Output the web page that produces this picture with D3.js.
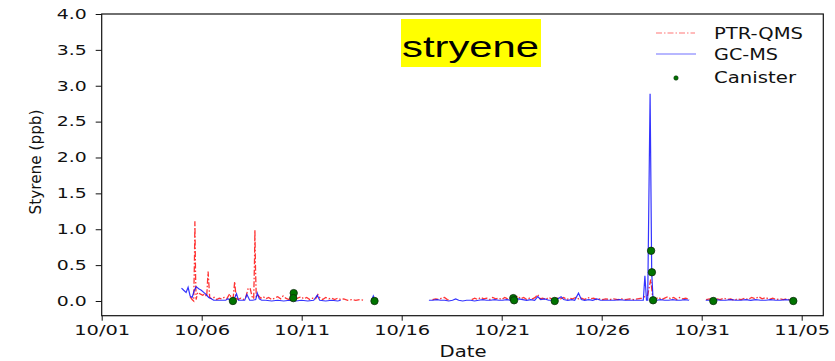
<!DOCTYPE html>
<html>
<head>
<meta charset="utf-8">
<script src="https://cdn.jsdelivr.net/npm/d3@7"></script>
<style>
  body { margin: 0; background: #fff; }
  svg { display: block; }
</style>
</head>
<body>
<div id="chart"></div>
<script>
// temps en jours depuis le 10/01 00:00, valeurs en ppb

const xTickDays = [0, 5, 10, 15, 20, 25, 30, 35];
const xTickLabels = ["10/01", "10/06", "10/11", "10/16", "10/21", "10/26", "10/31", "11/05"];
const yTickValues = [0, 0.5, 1, 1.5, 2, 2.5, 3, 3.5, 4];
const yTickLabels = ["0.0", "0.5", "1.0", "1.5", "2.0", "2.5", "3.0", "3.5", "4.0"];
const legendLabels = ["PTR-QMS", "GC-MS", "Canister"];
const titleText = "stryene";

// PTR-QMS (rouge, tiret-point)
const ptrSeg1 = [
  [4.42, 0.06], [4.52, 0.02], [4.60, 0.00], [4.64, 0.60], [4.66, 1.11], [4.69, 0.40], [4.72, 0.02], [4.80, 0.12], [4.92, 0.10],
  [5.05, 0.08], [5.15, 0.10], [5.25, 0.06], [5.32, 0.41], [5.40, 0.05], [5.50, 0.03], [5.62, 0.05],
  [5.75, 0.02], [5.88, 0.04], [6.00, 0.03], [6.12, 0.05], [6.25, 0.03], [6.40, 0.10], [6.50, 0.03],
  [6.58, 0.06], [6.65, 0.27], [6.72, 0.04], [6.82, 0.02], [6.95, 0.04], [7.08, 0.02], [7.20, 0.05],
  [7.32, 0.17], [7.42, 0.18], [7.52, 0.06], [7.60, 0.03], [7.64, 0.55], [7.66, 0.99], [7.69, 0.45], [7.73, 0.05], [7.82, 0.08],
  [7.95, 0.04], [8.08, 0.06], [8.20, 0.03], [8.35, 0.05], [8.50, 0.02], [8.65, 0.04], [8.80, 0.06],
  [8.95, 0.03], [9.07, 0.07], [9.20, 0.04], [9.35, 0.02], [9.50, 0.05], [9.65, 0.03], [9.80, 0.04],
  [9.98, 0.06], [10.10, 0.03], [10.25, 0.05], [10.40, 0.02], [10.55, 0.04], [10.70, 0.03], [10.81, 0.09],
  [10.92, 0.04], [11.05, 0.02], [11.20, 0.05], [11.35, 0.03], [11.50, 0.04], [11.65, 0.02], [11.80, 0.04],
  [11.95, 0.02], [12.10, 0.03], [12.30, 0.01], [12.50, 0.02], [12.70, 0.01], [12.90, 0.02], [13.15, 0.01]
];
const ptrSeg2 = [
  [16.54, 0.02], [16.70, 0.03], [16.85, 0.02], [17.00, 0.04], [17.14, 0.05], [17.28, 0.02], [17.40, 0.01]
];
const ptrSeg3 = [
  [18.50, 0.02], [18.65, 0.04], [18.80, 0.02], [18.95, 0.05], [19.10, 0.03], [19.25, 0.04], [19.40, 0.02],
  [19.55, 0.05], [19.70, 0.03], [19.85, 0.04], [20.00, 0.02], [20.15, 0.05], [20.30, 0.03], [20.45, 0.04],
  [20.60, 0.02], [20.80, 0.07], [20.95, 0.03], [21.10, 0.05], [21.25, 0.02], [21.40, 0.04], [21.55, 0.03],
  [21.68, 0.05], [21.80, 0.09], [21.92, 0.03], [22.05, 0.04], [22.20, 0.02], [22.35, 0.05], [22.50, 0.03],
  [22.65, 0.02], [22.80, 0.04], [22.95, 0.03], [23.10, 0.05], [23.25, 0.02], [23.40, 0.04], [23.55, 0.03],
  [23.70, 0.05], [23.85, 0.03], [24.00, 0.04], [24.15, 0.02], [24.30, 0.05], [24.45, 0.03], [24.60, 0.04],
  [24.75, 0.02], [24.90, 0.03], [25.05, 0.02], [25.20, 0.03], [25.40, 0.02], [25.60, 0.03], [25.80, 0.02],
  [26.00, 0.03], [26.20, 0.02], [26.40, 0.03], [26.60, 0.02], [26.80, 0.03], [27.00, 0.04], [27.15, 0.06],
  [27.30, 0.08], [27.45, 0.30], [27.55, 0.05], [27.70, 0.03], [27.85, 0.05], [28.00, 0.02], [28.15, 0.04],
  [28.30, 0.06], [28.45, 0.03], [28.60, 0.05], [28.75, 0.02], [28.90, 0.05], [29.05, 0.03], [29.20, 0.04],
  [29.40, 0.02]
];
const ptrSeg4 = [
  [30.22, 0.02], [30.40, 0.03], [30.58, 0.01], [30.75, 0.03], [30.92, 0.02], [31.10, 0.04], [31.28, 0.02],
  [31.45, 0.03], [31.62, 0.01], [31.80, 0.03], [31.98, 0.02], [32.15, 0.04], [32.32, 0.02], [32.50, 0.05],
  [32.68, 0.03], [32.85, 0.06], [33.02, 0.03], [33.20, 0.05], [33.38, 0.02], [33.55, 0.04], [33.72, 0.02],
  [33.90, 0.03], [34.08, 0.02], [34.25, 0.03], [34.45, 0.01]
];

// GC-MS (bleu)
const gcSeg1 = [
  [3.99, 0.18], [4.10, 0.15], [4.22, 0.12], [4.32, 0.19], [4.42, 0.07], [4.52, 0.05], [4.62, 0.14],
  [4.72, 0.20], [4.85, 0.17], [4.98, 0.15], [5.10, 0.12], [5.22, 0.09], [5.35, 0.05], [5.48, 0.03],
  [5.60, 0.01], [5.80, 0.01], [6.00, 0.01], [6.20, 0.01], [6.31, 0.03], [6.42, 0.01], [6.60, 0.01],
  [6.74, 0.10], [6.84, 0.01], [7.00, 0.01], [7.15, 0.01], [7.26, 0.09], [7.40, 0.01], [7.55, 0.01],
  [7.70, 0.02], [7.78, 0.11], [7.88, 0.03], [8.00, 0.01], [8.20, 0.01], [8.50, 0.00], [8.80, 0.01],
  [9.10, 0.00], [9.40, 0.01], [9.70, 0.00], [10.00, 0.01], [10.30, 0.00], [10.60, 0.01], [10.78, 0.08],
  [10.90, 0.01], [11.20, 0.00], [11.50, 0.01], [11.80, 0.00], [11.95, 0.01]
];
const gcSeg2 = [
  [13.50, 0.01], [13.58, 0.07], [13.66, 0.01]
];
const gcSeg3 = [
  [16.36, 0.01], [16.55, 0.01], [16.75, 0.02], [16.95, 0.01], [17.15, 0.01], [17.35, 0.00], [17.54, 0.01],
  [17.70, 0.03], [17.85, 0.01], [18.05, 0.00], [18.25, 0.01], [18.45, 0.01], [18.64, 0.00], [18.85, 0.01],
  [19.05, 0.02], [19.25, 0.01], [19.45, 0.01], [19.65, 0.02], [19.85, 0.01], [20.05, 0.01], [20.25, 0.02],
  [20.45, 0.01], [20.65, 0.02], [20.85, 0.03], [21.05, 0.02], [21.25, 0.01], [21.45, 0.02], [21.65, 0.01],
  [21.80, 0.06], [21.95, 0.02], [22.15, 0.03], [22.35, 0.01], [22.55, 0.01], [22.75, 0.02], [22.97, 0.06],
  [23.10, 0.02], [23.30, 0.01], [23.50, 0.02], [23.65, 0.01], [23.84, 0.11], [23.98, 0.02], [24.15, 0.01],
  [24.35, 0.02], [24.55, 0.01], [24.75, 0.03], [24.95, 0.01], [25.15, 0.01], [25.40, 0.01], [25.65, 0.01],
  [25.90, 0.02], [26.15, 0.01], [26.40, 0.01], [26.65, 0.01], [26.90, 0.01], [27.08, 0.01], [27.16, 0.35],
  [27.24, 0.01], [27.30, 0.01], [27.42, 2.89], [27.50, 0.40], [27.57, 0.01], [27.75, 0.01], [27.95, 0.02],
  [28.15, 0.01], [28.35, 0.01], [28.55, 0.02], [28.75, 0.01], [28.95, 0.01], [29.15, 0.02], [29.37, 0.01]
];
const gcSeg4 = [
  [30.20, 0.01], [30.45, 0.01], [30.70, 0.02], [30.95, 0.01], [31.20, 0.01], [31.45, 0.02], [31.70, 0.01],
  [31.95, 0.01], [32.20, 0.02], [32.45, 0.01], [32.70, 0.02], [32.95, 0.01], [33.20, 0.01], [33.45, 0.02],
  [33.70, 0.01], [33.95, 0.01], [34.20, 0.02], [34.50, 0.01]
];

// Canister (points verts)
const canisterDays = [6.56, 9.60, 9.58, 13.64, 20.58, 20.62, 22.65, 27.47, 27.51, 27.57, 30.58, 34.58];
const canisterPpb  = [0.00, 0.11, 0.04, 0.00, 0.04, 0.01, 0.00, 0.70, 0.40, 0.01, 0.00, 0.00];

const ptrSegments = [ptrSeg1, ptrSeg2, ptrSeg3, ptrSeg4];
const gcSegments = [gcSeg1, gcSeg2, gcSeg3, gcSeg4];

// Dimensions
const W = 835, H = 361;
const plotLeft = 101.7, plotRight = 823.3, plotTop = 14, plotBottom = 315.7;

const svg = d3.select("#chart").append("svg")
    .attr("width", W)
    .attr("height", H);

const x = d3.scaleLinear().domain([0, 36.08]).range([plotLeft, plotRight]);
const y = d3.scaleLinear().domain([-0.205, 4.0]).range([plotBottom, plotTop]);

const line = d3.line().x(d => x(d[0])).y(d => y(d[1]));

// Courbes
svg.append("g").selectAll("path")
    .data(ptrSegments)
    .enter().append("path")
    .attr("d", line)
    .attr("fill", "none")
    .attr("stroke", "#ff1010")
    .attr("stroke-opacity", 0.85)
    .attr("stroke-width", 1.3)
    .attr("stroke-dasharray", "6,2,1.5,2");

svg.append("g").selectAll("path")
    .data(gcSegments)
    .enter().append("path")
    .attr("d", line)
    .attr("fill", "none")
    .attr("stroke", "#1010ff")
    .attr("stroke-opacity", 0.85)
    .attr("stroke-width", 1.2);

svg.append("g").selectAll("circle")
    .data(canisterDays)
    .enter().append("circle")
    .attr("cx", d => x(d))
    .attr("cy", (d, i) => y(canisterPpb[i]))
    .attr("r", 3.7)
    .attr("fill", "#007400")
    .attr("stroke", "#0b2b0b")
    .attr("stroke-width", 0.8);

// Axes
const xAxis = d3.axisBottom(x)
    .tickValues(xTickDays)
    .tickFormat((d, i) => xTickLabels[i])
    .tickSize(5)
    .tickSizeOuter(0)
    .tickPadding(4);

const gx = svg.append("g")
    .attr("transform", `translate(0,${plotBottom})`)
    .call(xAxis);
gx.select(".domain").remove();
gx.selectAll("line").attr("stroke", "#111").attr("stroke-width", 1);
gx.selectAll("text")
    .attr("fill", "#111")
    .style("font-family", "DejaVu Sans")
    .style("font-size", "14px")
    .attr("textLength", 56)
    .attr("lengthAdjust", "spacingAndGlyphs");

const yAxis = d3.axisLeft(y)
    .tickValues(yTickValues)
    .tickFormat((d, i) => yTickLabels[i])
    .tickSize(6)
    .tickSizeOuter(0)
    .tickPadding(9);

const gy = svg.append("g")
    .attr("transform", `translate(${plotLeft},0)`)
    .call(yAxis);
gy.select(".domain").remove();
gy.selectAll("line").attr("stroke", "#111").attr("stroke-width", 1);
gy.selectAll("text")
    .attr("fill", "#111")
    .style("font-family", "DejaVu Sans")
    .style("font-size", "13.5px")
    .attr("textLength", 30)
    .attr("lengthAdjust", "spacingAndGlyphs");

// Cadre
svg.append("rect")
    .attr("x", plotLeft)
    .attr("y", plotTop)
    .attr("width", plotRight - plotLeft)
    .attr("height", plotBottom - plotTop)
    .attr("fill", "none")
    .attr("stroke", "#111")
    .attr("stroke-width", 1.2);

// Titres des axes
svg.append("text")
    .attr("x", 463)
    .attr("y", 357)
    .attr("text-anchor", "middle")
    .style("font-family", "DejaVu Sans")
    .style("font-size", "15px")
    .attr("fill", "#111")
    .attr("textLength", 47)
    .attr("lengthAdjust", "spacingAndGlyphs")
    .text("Date");

svg.append("text")
    .attr("transform", "translate(41,162) rotate(-90)")
    .attr("text-anchor", "middle")
    .style("font-family", "DejaVu Sans")
    .style("font-size", "15.5px")
    .attr("fill", "#111")
    .attr("textLength", 105)
    .attr("lengthAdjust", "spacingAndGlyphs")
    .text("Styrene (ppb)");

// Titre sur fond jaune
svg.append("rect")
    .attr("x", 401)
    .attr("y", 19)
    .attr("width", 140)
    .attr("height", 48)
    .attr("fill", "#ffff00");

svg.append("text")
    .attr("x", 402)
    .attr("y", 56.5)
    .style("font-family", "Liberation Sans, Arial, sans-serif")
    .style("font-size", "30px")
    .attr("fill", "#000")
    .attr("textLength", 137)
    .attr("lengthAdjust", "spacingAndGlyphs")
    .text(titleText);

// Legende
const legend = svg.append("g");
const legendY = [33, 54, 77];
const legendW = [89, 64, 82];

legend.append("line")
    .attr("x1", 656).attr("x2", 695)
    .attr("y1", legendY[0]).attr("y2", legendY[0])
    .attr("stroke", "#ff1a1a")
    .attr("stroke-opacity", 0.6)
    .attr("stroke-width", 1.1)
    .attr("stroke-dasharray", "6,2,1.5,2");

legend.append("line")
    .attr("x1", 656).attr("x2", 696)
    .attr("y1", legendY[1]).attr("y2", legendY[1])
    .attr("stroke", "#1010ff")
    .attr("stroke-opacity", 0.6)
    .attr("stroke-width", 1.1);

legend.append("circle")
    .attr("cx", 676)
    .attr("cy", legendY[2] + 1)
    .attr("r", 2.2)
    .attr("fill", "#007400")
    .attr("stroke", "#0b2b0b")
    .attr("stroke-width", 0.6);

legend.selectAll("text")
    .data(legendLabels)
    .enter().append("text")
    .attr("x", 714)
    .attr("y", (d, i) => legendY[i] + 5.5)
    .style("font-family", "DejaVu Sans")
    .style("font-size", "15px")
    .attr("fill", "#111")
    .attr("textLength", (d, i) => legendW[i])
    .attr("lengthAdjust", "spacingAndGlyphs")
    .text(d => d);
</script>
</body>
</html>
